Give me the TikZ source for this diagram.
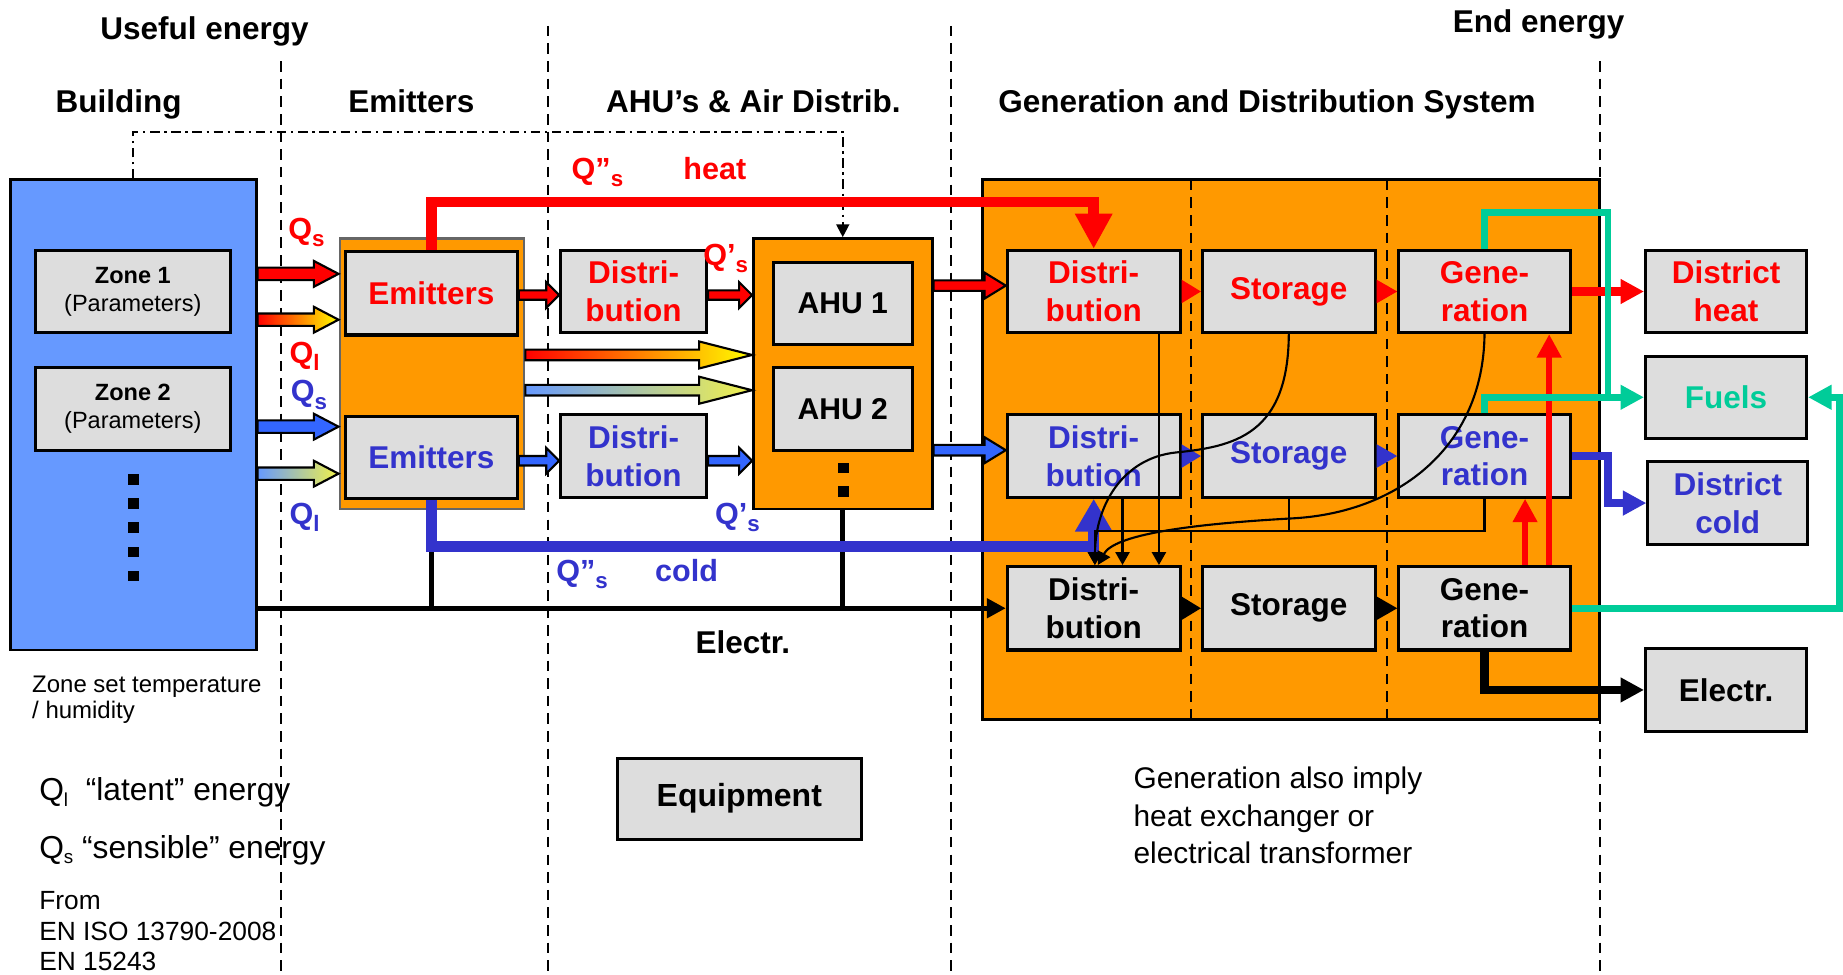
\documentclass[tikz,border=0pt]{standalone}
\usepackage{fontspec}
\setmainfont{Liberation Sans}
\usetikzlibrary{arrows.meta,calc}
\definecolor{bblue}{HTML}{6699FF}
\definecolor{aorange}{HTML}{FF9900}
\definecolor{bgray}{HTML}{DDDDDD}
\definecolor{tblue}{HTML}{3333CC}
\definecolor{ablue}{HTML}{3366FF}
\definecolor{fgreen}{HTML}{00CC99}
\definecolor{yel2}{HTML}{F2F24A}
\newcommand\fsz[2]{\fontsize{#1}{#2}\selectfont}
\newcommand\qsub[1]{\raisebox{-3pt}{\fsz{9.5}{10}#1}}
\newcommand\tsub[1]{\raisebox{-2.5pt}{\fsz{8}{9}#1}}
\newcommand\fatarrow[6]{\path[#1] ($(#2)+(0,#4)$) -- ($(#3)+(-#6,#4)$) -- ($(#3)+(-#6,#5)$) -- (#3) -- ($(#3)+(-#6,-#5)$) -- ($(#3)+(-#6,-#4)$) -- ($(#2)+(0,-#4)$) -- cycle;}
\begin{document}
\begin{tikzpicture}[x=0.5pt,y=-0.5pt,line join=miter,
  rc/.style args={#1/#2/#3/#4}{minimum width={(#3-#1)*0.5pt},minimum height={(#4-#2)*0.5pt},at={({(#1+#3)/2},{(#2+#4)/2})}},
  gbox/.style={draw=black,line width=1.3pt,fill=bgray,inner sep=0pt,align=center,font=\bfseries\fsz{13.4}{16}},
  obox/.style={draw=black,line width=1pt,fill=aorange,inner sep=0pt},
  hdr/.style={font=\bfseries\fsz{13.4}{16},anchor=base,inner sep=0pt},
  qlab/.style={font=\bfseries\fsz{13}{15},anchor=base west,inner sep=0pt},
  plain/.style={anchor=base west,inner sep=0pt},
  vdash/.style={line width=1pt,dash pattern=on 4.5pt off 3pt},
  thinarr/.style={line width=0.9pt,-{Triangle[length=5.5pt,width=6pt]}},
  fatout/.style={draw=black,line width=0.9pt},
  bigtip/.style={-{Triangle[length=10pt,width=10pt]}}]
\useasboundingbox (0,0) rectangle (1568,829);

% helper coordinates
\coordinate (dd) at (0,112);
\coordinate (hl) at (0,172);
\coordinate (cl) at (0,465);
\coordinate (hy) at (0,452);
\coordinate (vx) at (1368,0);
\coordinate (rx) at (1565,0);
\coordinate (k1) at (931.5,0);
\coordinate (k1b) at (934,0);
\coordinate (k2) at (955,0);
\coordinate (k3) at (986,0);
\coordinate (rv1) at (1297.5,0);
\coordinate (rv2) at (1318,0);

% column separators
\draw[vdash] (239,52) -- (239,829);
\draw[vdash] (466,22) -- (466,829);
\draw[vdash] (809,22) -- (809,829);
\draw[vdash] (1361,52) -- (1361,829);

% headers
\node[hdr] (hUse) at (174,34) {Useful energy};
\node[hdr] (hEnd) at (1309,28) {End energy};
\node[hdr] (hBld) at (101,96) {Building};
\node[hdr] (hEmi) at (350,96) {Emitters};
\node[hdr] (hAhu) at (641,96) {AHU’s \& Air Distrib.};
\node[hdr] (hGen) at (1078,96) {Generation and Distribution System};

% building
\node[draw=black,line width=1.2pt,fill=bblue,inner sep=0pt,rc=9/153/218/553] (bld) {};
\node[gbox,font=\bfseries\fsz{10}{12},rc=30/213/196/283] (z1) {Zone 1\\\mdseries(Parameters)};
\node[gbox,font=\bfseries\fsz{10}{12},rc=30/313/196/383] (z2) {Zone 2\\\mdseries(Parameters)};
\foreach \yy in {408,428.5,449,469.5,490}
  \fill (109,\yy-4.5) rectangle (118,\yy+4.5);

% emitters
\node[obox,draw=black!60,rc=289/203/446/433] (emo) {};
\node[gbox,text=red,rc=294/214/440/285] (emr) {Emitters};
\node[gbox,text=tblue,rc=294/354/440/424] (emb) {Emitters};

% distribution (air)
\node[gbox,text=red,rc=477/213/601/283] (dr) {Distri-\\bution};
\node[gbox,text=tblue,rc=477/353/601/423] (db) {Distri-\\bution};

% AHU
\node[obox,line width=1.2pt,rc=641/203/793/433] (ahu) {};
\node[gbox,font=\bfseries\fsz{12.8}{15},rc=658/223/776/293] (ahu1) {AHU 1};
\node[gbox,font=\bfseries\fsz{12.8}{15},rc=658/313/776/383] (ahu2) {AHU 2};
\fill (713,393.5) rectangle (722,402.5);
\fill (713,413.5) rectangle (722,422.5);

% generation and distribution system
\node[obox,line width=1.2pt,rc=836/153/1361/612] (gd) {};
\draw[vdash] (1013.5,153) -- (1013.5,612);
\draw[vdash] (1180,153) -- (1180,612);
\node[gbox,text=red,rc=857/213/1004/283] (gdr) {Distri-\\bution};
\node[gbox,text=red,rc=1023/213/1170/283] (gsr) {Storage};
\node[gbox,text=red,rc=1190/213/1336/283] (ggr) {Gene-\\ration};
\node[gbox,text=tblue,rc=857/353/1004/423] (gdb) {Distri-\\bution};
\node[gbox,text=tblue,rc=1023/353/1170/423] (gsb) {Storage};
\node[gbox,text=tblue,rc=1190/353/1336/423] (ggb) {Gene-\\ration};
\node[gbox,rc=857/482/1004/553] (gdk) {Distri-\\bution};
\node[gbox,rc=1023/482/1170/553] (gsk) {Storage};
\node[gbox,rc=1190/482/1336/553] (ggk) {Gene-\\ration};

% end energy boxes
\node[gbox,text=red,rc=1400/213/1537/283] (dh) {District\\heat};
\node[gbox,text=fgreen,rc=1400/303/1537/373] (fu) {Fuels};
\node[gbox,text=tblue,rc=1402/393/1538/463] (dc) {District\\cold};
\node[gbox,rc=1400/552/1537/622] (el) {Electr.};

% equipment
\node[gbox,font=\bfseries\fsz{13.6}{16},rc=525/645/733/714] (eq) {Equipment};

% dash-dot control line
\draw[line width=0.9pt,dash pattern=on 4pt off 2pt on 1pt off 2pt,-{Triangle[length=5.5pt,width=5.5pt]}]
  (bld.north) -- (bld.north |- dd) -- (ahu.north |- dd) -- (ahu.north);

% electricity
\draw[line width=2pt,-{Triangle[length=8pt,width=8pt]}] (bld.east |- gdk.west) -- (gdk.west);
\draw[line width=2pt] (emb.south |- cl) -- (emb.south |- gdk.west);
\draw[line width=2pt] (ahu.south) -- (ahu.south |- gdk.west);

% heat and cold mains
\draw[red,line width=4.5pt,-{Triangle[length=15pt,width=15pt]}]
  (emr.north) -- (emr.north |- hl) -- (gdr.north |- hl) -- (gdr.north);
\draw[tblue,line width=4.5pt,-{Triangle[length=14pt,width=15pt]}]
  (emb.south) -- (emb.south |- cl) -- (gdb.south |- cl) -- (gdb.south);

% building -> emitters
\coordinate (a1s) at (bld.east |- 0,233); \coordinate (a1e) at (emo.west |- 0,233);
\coordinate (a2s) at (bld.east |- 0,272); \coordinate (a2e) at (emo.west |- 0,272);
\coordinate (a3s) at (bld.east |- 0,363); \coordinate (a3e) at (emo.west |- 0,363);
\coordinate (a4s) at (bld.east |- 0,403); \coordinate (a4e) at (emo.west |- 0,403);
\fatarrow{fatout,fill=red}{a1s}{a1e}{5.3}{11}{21}
\fatarrow{fatout,left color=red,right color=yellow}{a2s}{a2e}{5.3}{11}{21}
\fatarrow{fatout,fill=ablue}{a3s}{a3e}{5.3}{11}{21}
\fatarrow{fatout,left color=bblue,right color=yel2}{a4s}{a4e}{5.3}{11}{21}

% emitters -> distribution -> AHU
\coordinate (b1s) at (emr.east |- 0,251); \coordinate (b1e) at (dr.west |- 0,251);
\coordinate (b2s) at (dr.east |- 0,251); \coordinate (b2e) at (ahu.west |- 0,251);
\coordinate (b3s) at (emb.east |- 0,392); \coordinate (b3e) at (db.west |- 0,392);
\coordinate (b4s) at (db.east |- 0,392); \coordinate (b4e) at (ahu.west |- 0,392);
\fatarrow{fatout,fill=red}{b1s}{b1e}{4}{11}{11}
\fatarrow{fatout,fill=red}{b2s}{b2e}{4}{11}{11}
\fatarrow{fatout,fill=ablue}{b3s}{b3e}{4}{11}{11}
\fatarrow{fatout,fill=ablue}{b4s}{b4e}{4}{11}{11}

% emitters -> AHU (latent)
\coordinate (g1s) at (emo.east |- 0,302); \coordinate (g1e) at (ahu.west |- 0,302);
\coordinate (g2s) at (emo.east |- 0,332); \coordinate (g2e) at (ahu.west |- 0,332);
\fatarrow{fatout,left color=red,right color=yellow}{g1s}{g1e}{4.5}{11.5}{45}
\fatarrow{fatout,left color=bblue,right color=yel2}{g2s}{g2e}{4.5}{11.5}{45}

% AHU -> generation system
\coordinate (c1s) at (ahu.east |- 0,243); \coordinate (c1e) at (gdr.west |- 0,243);
\coordinate (c2s) at (ahu.east |- 0,383); \coordinate (c2e) at (gdb.west |- 0,383);
\fatarrow{fatout,fill=red}{c1s}{c1e}{4.5}{11}{18}
\fatarrow{fatout,fill=ablue}{c2s}{c2e}{4.5}{11}{18}

% chain triangles
\fill[red] ($(gdr.east)+(0,-10)$) -- (gsr.west) -- ($(gdr.east)+(0,10)$) -- cycle;
\fill[red] ($(gsr.east)+(0,-10)$) -- (ggr.west) -- ($(gsr.east)+(0,10)$) -- cycle;
\fill[tblue] ($(gdb.east)+(0,-10)$) -- (gsb.west) -- ($(gdb.east)+(0,10)$) -- cycle;
\fill[tblue] ($(gsb.east)+(0,-10)$) -- (ggb.west) -- ($(gsb.east)+(0,10)$) -- cycle;
\fill[black] ($(gdk.east)+(0,-10)$) -- (gsk.west) -- ($(gdk.east)+(0,10)$) -- cycle;
\fill[black] ($(gsk.east)+(0,-10)$) -- (ggk.west) -- ($(gsk.east)+(0,10)$) -- cycle;

% internal network
\draw[thinarr] (k3 |- gdr.south) -- (k3 |- gdk.north);
\draw[thinarr] (k2 |- gdb.south) -- (k2 |- gdk.north);
\draw[line width=0.9pt] (gsb.south) -- (gsb.south |- hy);
\draw[thinarr] (ggb.south) -- (ggb.south |- hy) -- (k1 |- hy) -- (k1 |- gdk.north);
\draw[thinarr] (gsr.south) .. controls (1096,370) and (1050,380) .. (1000,385)
  .. controls (955,390) and (932,430) .. (k1 |- gdk.north);
\draw[thinarr] (ggr.south) .. controls (1262,380) and (1190,436) .. (1100,441)
  .. controls (1010,446) and (948,455) .. (k1b |- gdk.north);

% generation internal red arrows
\draw[red,line width=2.8pt,bigtip] (rv1 |- ggk.north) -- (rv1 |- ggb.south);
\draw[red,line width=2.8pt,bigtip] (rv2 |- ggk.north) -- (rv2 |- ggr.south);

% outputs
\draw[red,line width=3.5pt,bigtip] (ggr.east) -- (dh.west);
\draw[tblue,line width=3.5pt,bigtip] (ggb.east) -- (ggb.east -| vx) -- (vx |- dc.west) -- (dc.west);
\draw[fgreen,line width=2.8pt,bigtip] (ggr.north) -- (ggr.north |- 0,181) -- (vx |- 0,181) -- (vx |- fu.west) -- (fu.west);
\draw[fgreen,line width=2.8pt] (ggb.north) -- (ggb.north |- fu.west) -- (vx |- fu.west);
\draw[fgreen,line width=2.8pt,bigtip] (ggk.east) -- (ggk.east -| rx) -- (rx |- fu.east) -- (fu.east);
\draw[line width=3.5pt,bigtip] (ggk.south) -- (ggk.south |- el.west) -- (el.west);

% flow labels
\node[qlab,text=red] (lq1) at (245,204) {Q\qsub{s}};
\node[qlab,text=red] (lq2) at (246,309) {Q\qsub{l}};
\node[qlab,text=tblue] (lq3) at (247,342) {Q\qsub{s}};
\node[qlab,text=tblue] (lq4) at (246,446) {Q\qsub{l}};
\node[qlab,text=red] (lq5) at (598,226) {Q’\qsub{s}};
\node[qlab,text=tblue] (lq6) at (608,446) {Q’\qsub{s}};
\node[qlab,text=red] (lq7) at (486,153) {Q”\qsub{s}};
\node[qlab,text=red] (lheat) at (581,153) {heat};
\node[qlab,text=tblue] (lq8) at (473,495) {Q”\qsub{s}};
\node[qlab,text=tblue] (lcold) at (557,495) {cold};
\node[hdr] (lel) at (632,556) {Electr.};

% notes
\node[plain,font=\fsz{10.2}{12}] (n1) at (27,589) {Zone set temperature};
\node[plain,font=\fsz{10.2}{12}] (n2) at (27,611) {/ humidity};
\node[plain,font=\fsz{13.5}{16}] (n3) at (33,681) {Q\tsub{l}\ \ “latent” energy};
\node[plain,font=\fsz{13.5}{16}] (n4) at (33,730) {Q\tsub{s} “sensible” energy};
\node[plain,font=\fsz{11.2}{13}] (n5) at (33,774) {From};
\node[plain,font=\fsz{11.2}{13}] (n6) at (33,800) {EN ISO 13790-2008};
\node[plain,font=\fsz{11.2}{13}] (n7) at (33,826) {EN 15243};
\node[plain,font=\fsz{12.7}{15}] (n8) at (964,671) {Generation also imply};
\node[plain,font=\fsz{12.7}{15}] (n9) at (964,703) {heat exchanger or};
\node[plain,font=\fsz{12.7}{15}] (n10) at (964,735) {electrical transformer};
\end{tikzpicture}
\end{document}
